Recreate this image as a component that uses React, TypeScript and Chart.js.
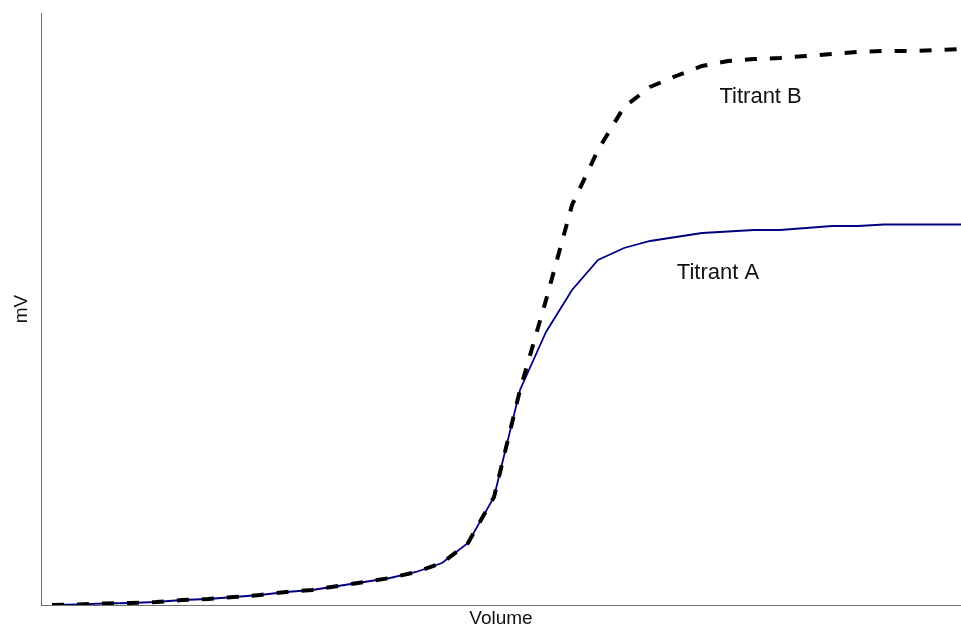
import React, { useEffect, useRef } from "react";
import { Chart, registerables } from "chart.js";

Chart.register(...registerables);

// Volume steps (increments of titrant added)
const volumeSteps: number[] = Array.from({ length: 36 }, (_, i) => i);

// Titrant A potential readings (mV, relative)
const titrantA: number[] = [
  0, 0.5, 1.5, 2, 3, 5, 6, 8, 10, 13, 15, 19, 23, 27, 33, 42, 62, 108, 215,
  273, 315, 345, 357, 364, 368, 372, 373.5, 375, 375, 377, 379, 379, 380.5,
  380.5, 380.5, 380.5,
];

// Titrant B potential readings (mV, relative)
const titrantB: number[] = [
  0, 0.5, 1.5, 2, 3, 5, 6, 8, 10, 13, 15, 19, 23, 27, 33, 42, 62, 108, 215,
  305, 400, 455, 498, 518, 529, 539, 544, 546, 547, 549, 551, 553, 554, 554,
  555, 556,
];

// In-plot labels
const labelTexts: string[] = ["Titrant A", "Titrant B"];
const labelX: number[] = [24.03, 25.67];
const labelY: number[] = [332, 508];

const FONT = '"Liberation Sans", Arial, sans-serif';

const labelPlugin = {
  id: "seriesLabels",
  afterDatasetsDraw(chart: any) {
    const { ctx, scales } = chart;
    ctx.save();
    ctx.font = `22px ${FONT}`;
    ctx.fillStyle = "#111111";
    ctx.textAlign = "left";
    ctx.textBaseline = "middle";
    labelTexts.forEach((t, i) => {
      ctx.fillText(
        t,
        scales.x.getPixelForValue(labelX[i]),
        scales.y.getPixelForValue(labelY[i])
      );
    });
    ctx.restore();
  },
};

export default function App() {
  const ref = useRef<HTMLCanvasElement | null>(null);

  useEffect(() => {
    if (!ref.current) return;
    const chart = new Chart(ref.current, {
      type: "line",
      data: {
        datasets: [
          {
            label: "Titrant B",
            data: volumeSteps.map((v, i) => ({ x: v, y: titrantB[i] })),
            borderColor: "#000000",
            borderWidth: 4,
            borderDash: [12, 13],
            pointRadius: 0,
            tension: 0,
            fill: false,
            order: 1,
          },
          {
            label: "Titrant A",
            data: volumeSteps.map((v, i) => ({ x: v, y: titrantA[i] })),
            borderColor: "#000080",
            borderWidth: 1.8,
            pointRadius: 0,
            tension: 0,
            fill: false,
            order: 2,
          },
        ],
      },
      options: {
        responsive: false,
        animation: false,
        devicePixelRatio: 1,
        layout: { padding: { top: 13, right: 0, left: 0, bottom: 0 } },
        plugins: {
          legend: { display: false },
          tooltip: { enabled: false },
        },
        scales: {
          x: {
            type: "linear",
            min: -0.423,
            max: 34.96,
            grid: { display: false },
            border: { display: true, color: "#707070", width: 1 },
            ticks: { display: false },
            title: {
              display: true,
              text: "Volume",
              color: "#111111",
              font: { family: FONT, size: 19 },
              padding: { top: 0, bottom: 0 },
            },
            afterFit(scale: any) {
              scale.height = 25;
            },
          },
          y: {
            type: "linear",
            min: 0,
            max: 592,
            grid: { display: false },
            border: { display: true, color: "#707070", width: 1 },
            ticks: { display: false },
            title: {
              display: true,
              text: "mV",
              color: "#111111",
              font: { family: FONT, size: 19 },
              padding: { top: 10, bottom: 0 },
            },
            afterFit(scale: any) {
              scale.width = 41;
            },
          },
        },
      },
      plugins: [labelPlugin],
    });
    return () => chart.destroy();
  }, []);

  return (
    <div
      style={{
        position: "fixed",
        left: 0,
        top: 0,
        width: 961,
        height: 630,
        background: "#ffffff",
      }}
    >
      <canvas ref={ref} width={961} height={630} />
    </div>
  );
}
